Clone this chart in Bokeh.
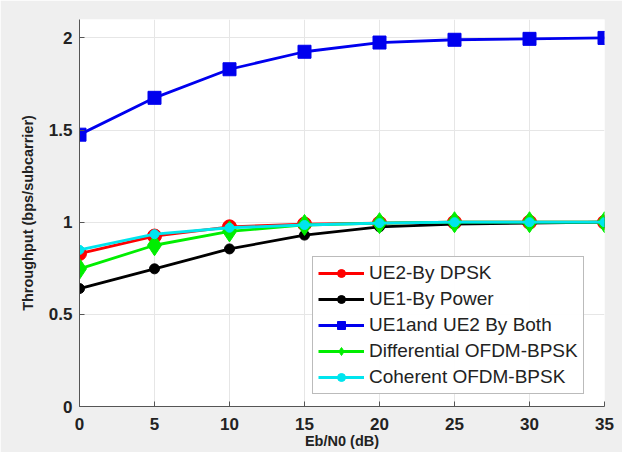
from bokeh.plotting import figure
from bokeh.models import Range1d, Legend, LegendItem, FixedTicker
from bokeh.embed import file_html
from bokeh.resources import INLINE

snr = [0, 5, 10, 15, 20, 25, 30, 35]
ue2_dpsk = [0.83, 0.925, 0.975, 0.99, 0.995, 1.0, 1.0, 1.0]
ue1_power = [0.64, 0.747, 0.855, 0.93, 0.975, 0.99, 0.995, 1.0]
ue_both = [1.475, 1.675, 1.83, 1.925, 1.975, 1.99, 1.995, 2.0]
diff_bpsk = [0.747, 0.875, 0.95, 0.985, 0.995, 1.0, 1.0, 1.0]
coh_bpsk = [0.85, 0.935, 0.97, 0.985, 0.995, 1.0, 1.0, 1.0]

x_ticks = [0, 5, 10, 15, 20, 25, 30, 35]
y_ticks = [0, 0.5, 1, 1.5, 2]
x_title = "Eb/N0 (dB)"
y_title = "Throughput (bps/subcarrier)"

FONT = "Liberation Sans"

p = figure(width=622, height=452, output_backend="svg", toolbar_location=None,
           x_range=Range1d(0, 35), y_range=Range1d(0, 2.1),
           min_border_left=79, min_border_top=19, min_border_right=18, min_border_bottom=46)
p.background_fill_color = "white"
p.border_fill_color = "#efefef"
p.outline_line_color = None

p.xaxis.ticker = FixedTicker(ticks=x_ticks)
p.yaxis.ticker = FixedTicker(ticks=y_ticks)
p.yaxis.major_label_overrides = {0: "0", 0.5: "0.5", 1: "1", 1.5: "1.5", 2: "2"}
for ax in (p.xaxis, p.yaxis):
    ax.major_tick_in = 5
    ax.major_tick_out = 0
    ax.minor_tick_line_color = None
    ax.axis_line_color = "#555555"
    ax.major_tick_line_color = "#555555"
    ax.major_label_text_font = FONT
    ax.major_label_text_font_style = "bold"
    ax.major_label_text_font_size = "17px"
    ax.major_label_text_color = "#222222"
    ax.axis_label_text_font = FONT
    ax.axis_label_text_font_style = "bold"
    ax.axis_label_text_font_size = "14.5px"
    ax.axis_label_text_color = "#222222"
p.xaxis.axis_label = x_title
p.yaxis.axis_label = y_title
p.xaxis.major_label_standoff = 11
p.xaxis.axis_label_standoff = 0
p.yaxis.major_label_standoff = 7
p.yaxis.axis_label_standoff = 10
p.grid.grid_line_color = "#e6e6e6"

series = [
    ("UE2-By DPSK", ue2_dpsk, "#ff0000", "circle", 14),
    ("UE1-By Power", ue1_power, "#000000", "circle", 10),
    ("UE1and UE2 By Both", ue_both, "#0000ee", "square", 13),
    ("Differential OFDM-BPSK", diff_bpsk, "#00ee00", "diamond", 21),
    ("Coherent OFDM-BPSK", coh_bpsk, "#00e5ee", "circle", 9),
]
items = []
for label, ys, col, mk, sz in series:
    r1 = p.line(snr, ys, line_color=col, line_width=2.8)
    r2 = p.scatter(snr, ys, marker=mk, size=sz, fill_color=col, line_color=col)
    items.append(LegendItem(label=label, renderers=[r1, r2]))

legend = Legend(items=items, location=(233, 12))
legend.label_text_font = FONT
legend.label_text_font_size = "19px"
legend.label_text_color = "#222222"
legend.glyph_width = 46
legend.glyph_height = 20
legend.label_height = 20
legend.label_standoff = 5
legend.spacing = 4
legend.padding = 5
legend.margin = 0
legend.border_line_color = "#777777"
legend.background_fill_color = "white"
p.add_layout(legend)

open("out.html", "w").write(file_html(p, INLINE))
